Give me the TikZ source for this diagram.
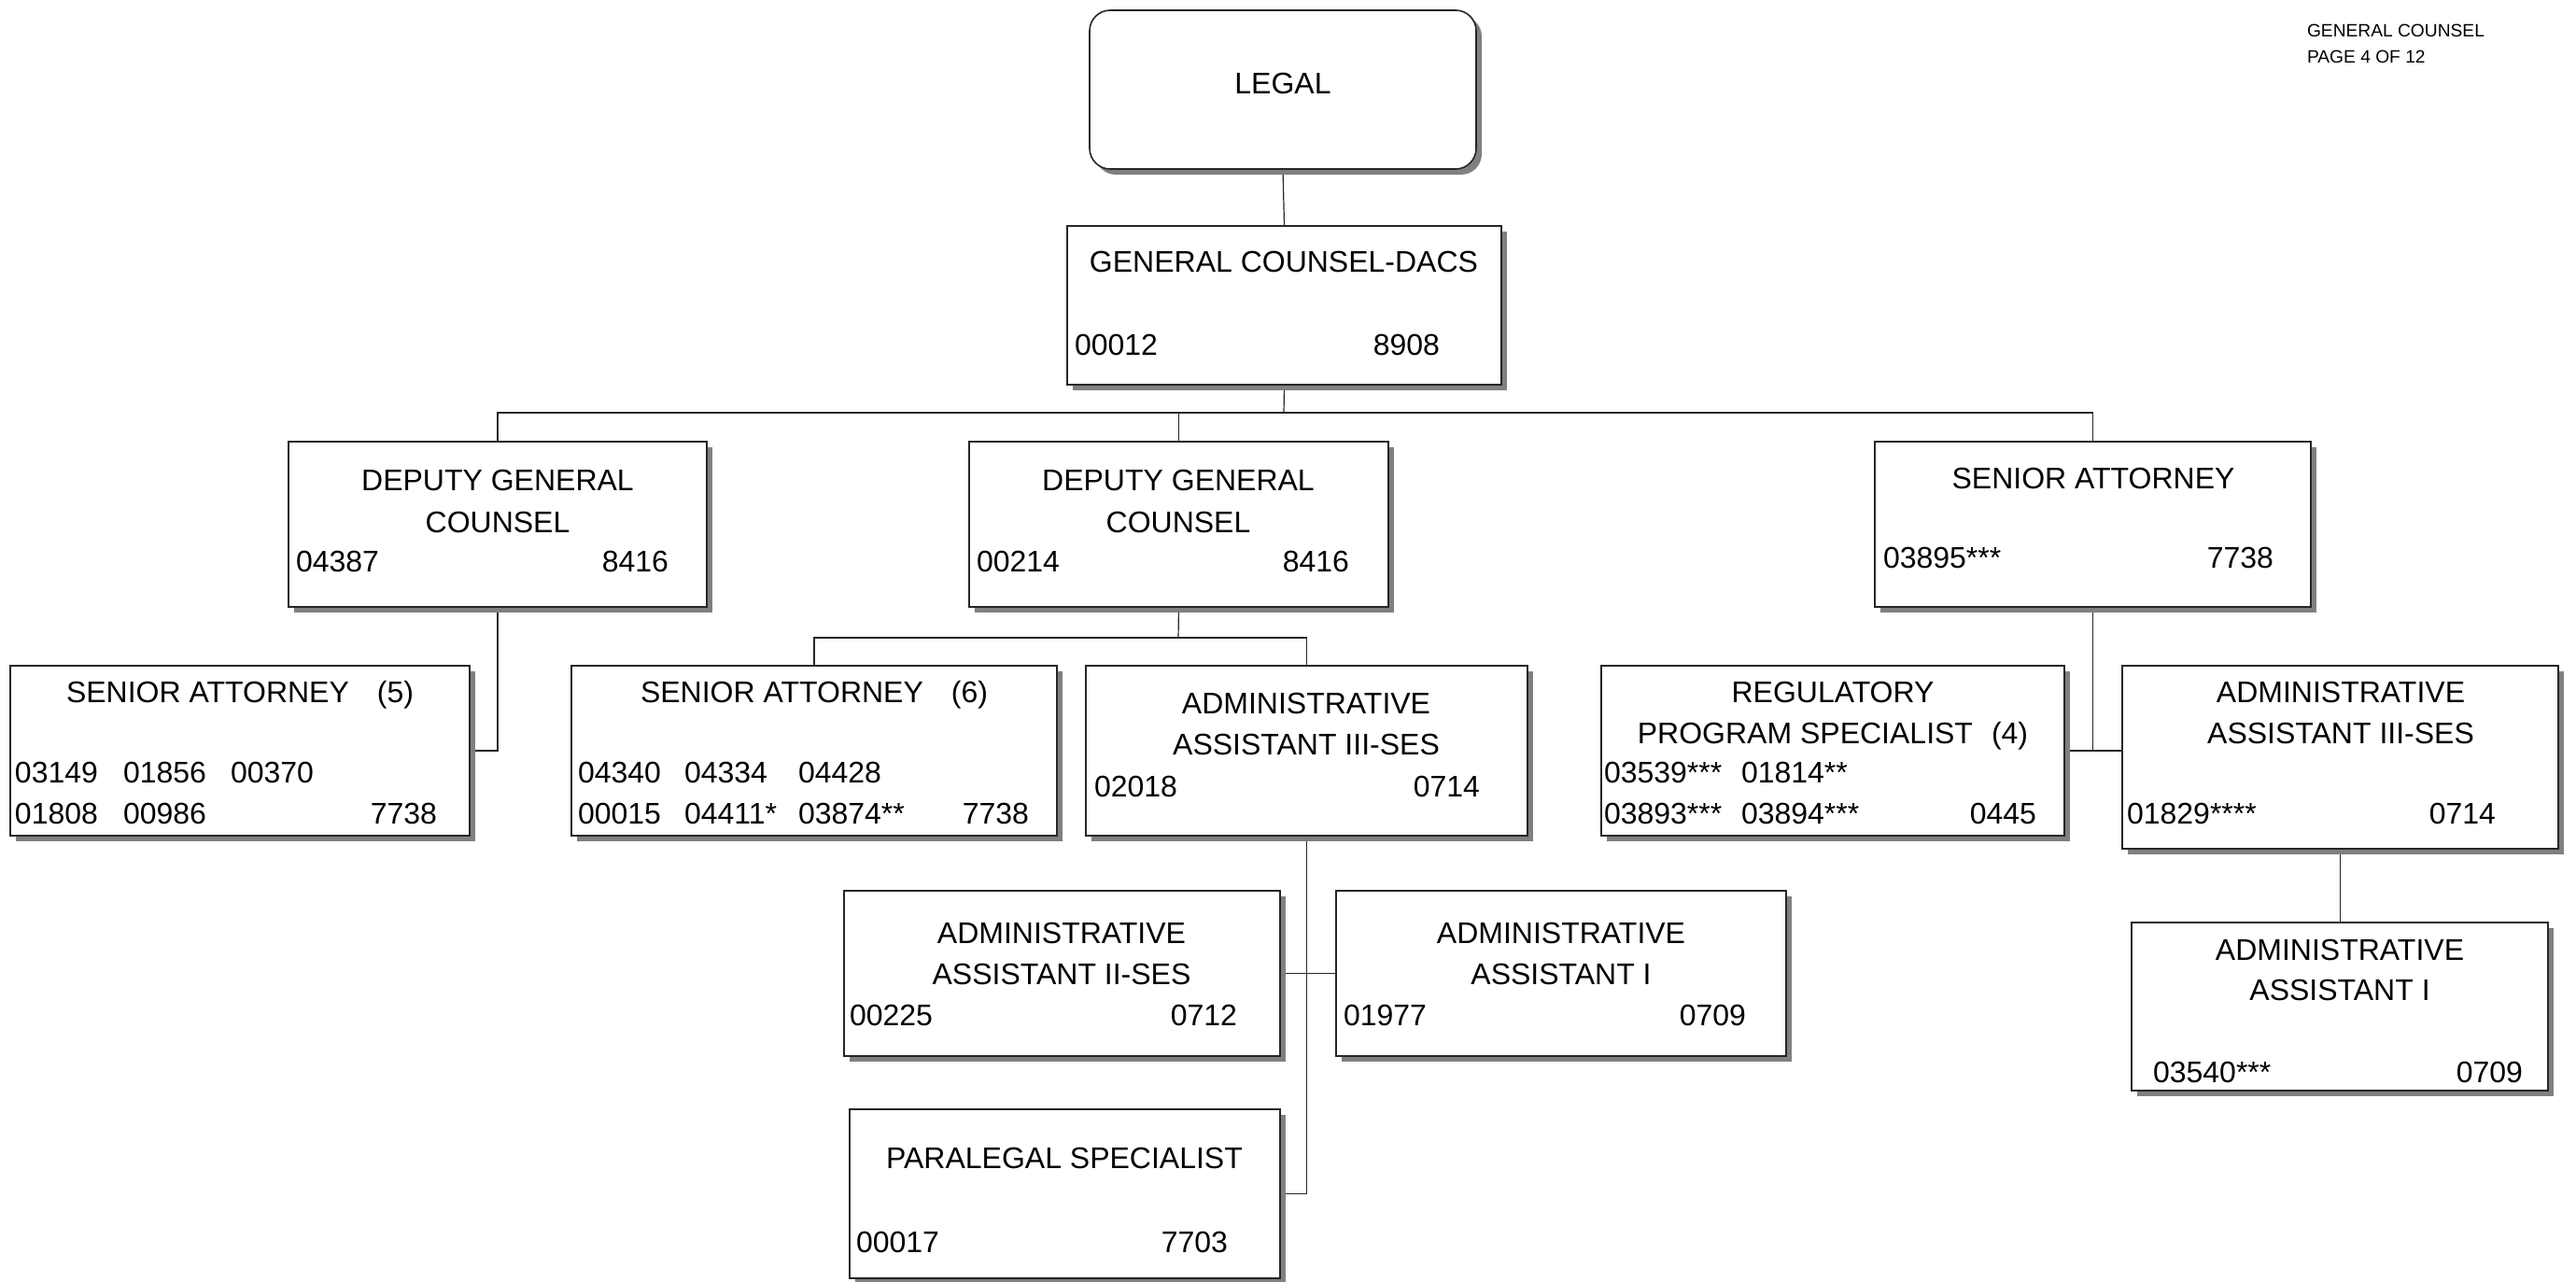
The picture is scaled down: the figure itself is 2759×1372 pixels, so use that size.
\documentclass[tikz,border=0pt]{standalone}
\usepackage{fontspec}
\setmainfont{Liberation Sans}
\definecolor{shadowgray}{RGB}{128,128,128}
\pgfdeclarelayer{background}
\pgfsetlayers{background,main}
\tikzset{
  unitbox/.style={draw=black!85, line width=0.4pt, fill=white, rectangle,
                  inner sep=0pt, outer sep=0pt},
  link/.style={draw=black!85, line width=0.3pt},
  txt/.style={inner sep=0pt, outer sep=0pt, font=\fontsize{8}{9.6}\selectfont},
  ttl/.style={txt, anchor=base},
  numl/.style={txt, anchor=base west},
  numr/.style={txt, anchor=base east},
  corner/.style={inner sep=0pt, outer sep=0pt, anchor=base west,
                 font=\fontsize{4.8}{5.8}\selectfont},
}
% org unit box with a drop shadow: [options]{name}{x1}{y1}{x2}{y2}
\newcommand\orgunit[6][]{%
  \fill[shadowgray,#1] (#3+6,#4+6) rectangle (#5+6,#6+6);
  \node[unitbox,#1,minimum width={(#5-#3)*0.25pt},minimum height={(#6-#4)*0.25pt}]
    (#2) at ({(#3+#5)/2},{(#4+#6)/2}) {};
}
\begin{document}
\begin{tikzpicture}[x=0.25pt,y=-0.25pt]
\useasboundingbox (0,0) rectangle (2759,1372);

% boxes
\orgunit[rounded corners=5.5pt]{legal}{1167}{11}{1581}{181}
\orgunit{gc}{1143}{242}{1608}{412}
\orgunit{dgcl}{309}{473}{757}{650}
\orgunit{dgcm}{1038}{473}{1487}{650}
\orgunit{sar}{2008}{473}{2475}{650}
\orgunit{sa5}{11}{713}{503}{895}
\orgunit{sa6}{612}{713}{1132}{895}
\orgunit{aa3m}{1163}{713}{1636}{895}
\orgunit{reg}{1715}{713}{2211}{895}
\orgunit{aa3r}{2273}{713}{2740}{909}
\orgunit{aa2}{904}{954}{1371}{1131}
\orgunit{aa1m}{1431}{954}{1913}{1131}
\orgunit{para}{910}{1188}{1371}{1369}
\orgunit{aa1r}{2283}{988}{2729}{1168}

% connectors, behind the boxes and their shadows
\begin{pgfonlayer}{background}
\fill[white] (0,0) rectangle (2759,1372);
\coordinate (bus) at (1375,442);
\coordinate (busm) at (1262,683);
\draw[link] (legal.south) -- (gc.north);
\draw[link] (gc.south) -- (bus);
\draw[link] (dgcl.north) |- (bus) -| (sar.north);
\draw[link] (dgcm.north) -- (dgcm.north |- bus);
\draw[link] (dgcl.south) |- (sa5.east);
\draw[link] (dgcm.south) -- (busm);
\draw[link] (sa6.north) |- (busm) -| (aa3m.north);
\draw[link] (sar.south) -- (sar.south |- reg.east);
\draw[link] (reg.east) -- (reg.east -| aa3r.west);
\draw[link] (aa3m.south) |- (para.east);
\draw[link] (aa2.east) -- (aa1m.west);
\draw[link] (aa3r.south) -- (aa3r.south |- aa1r.north);
\end{pgfonlayer}

% texts
\node[ttl] (legal-t) at (1374,100) {LEGAL};

\node[ttl]  (gc-t) at (1375,291) {GENERAL COUNSEL-DACS};
\node[numl] (gc-p) at (1151,380) {00012};
\node[numr] (gc-c) at (1542,380) {8908};

\node[ttl]  (dgcl-t1) at (533,525) {DEPUTY GENERAL};
\node[ttl]  (dgcl-t2) at (533,570) {COUNSEL};
\node[numl] (dgcl-p)  at (317,612) {04387};
\node[numr] (dgcl-c)  at (716,612) {8416};

\node[ttl]  (dgcm-t1) at (1262,525) {DEPUTY GENERAL};
\node[ttl]  (dgcm-t2) at (1262,570) {COUNSEL};
\node[numl] (dgcm-p)  at (1046,612) {00214};
\node[numr] (dgcm-c)  at (1445,612) {8416};

\node[ttl]  (sar-t) at (2242,523) {SENIOR ATTORNEY};
\node[numl] (sar-p) at (2017,608) {03895***};
\node[numr] (sar-c) at (2435,608) {7738};

\node[ttl]  (sa5-t)  at (257,752) {SENIOR ATTORNEY\hspace{7.5pt}(5)};
\node[numl] (sa5-p1) at (16,838)  {03149};
\node[numl] (sa5-p2) at (132,838) {01856};
\node[numl] (sa5-p3) at (247,838) {00370};
\node[numl] (sa5-p4) at (16,882)  {01808};
\node[numl] (sa5-p5) at (132,882) {00986};
\node[numr] (sa5-c)  at (468,882) {7738};

\node[ttl]  (sa6-t)  at (872,752) {SENIOR ATTORNEY\hspace{7.5pt}(6)};
\node[numl] (sa6-p1) at (619,838) {04340};
\node[numl] (sa6-p2) at (733,838) {04334};
\node[numl] (sa6-p3) at (855,838) {04428};
\node[numl] (sa6-p4) at (619,882) {00015};
\node[numl] (sa6-p5) at (733,882) {04411*};
\node[numl] (sa6-p6) at (855,882) {03874**};
\node[numr] (sa6-c)  at (1102,882) {7738};

\node[ttl]  (aa3m-t1) at (1399,764) {ADMINISTRATIVE};
\node[ttl]  (aa3m-t2) at (1399,808) {ASSISTANT III-SES};
\node[numl] (aa3m-p)  at (1172,853) {02018};
\node[numr] (aa3m-c)  at (1585,853) {0714};

\node[ttl]  (reg-t1) at (1963,752) {REGULATORY};
\node[ttl]  (reg-t2) at (1963,796) {PROGRAM SPECIALIST\hspace{5pt}(4)};
\node[numl] (reg-p1) at (1718,838) {03539***};
\node[numl] (reg-p2) at (1865,838) {01814**};
\node[numl] (reg-p3) at (1718,882) {03893***};
\node[numl] (reg-p4) at (1865,882) {03894***};
\node[numr] (reg-c)  at (2181,882) {0445};

\node[ttl]  (aa3r-t1) at (2507,752) {ADMINISTRATIVE};
\node[ttl]  (aa3r-t2) at (2507,796) {ASSISTANT III-SES};
\node[numl] (aa3r-p)  at (2278,882) {01829****};
\node[numr] (aa3r-c)  at (2673,882) {0714};

\node[ttl]  (aa2-t1) at (1137,1010) {ADMINISTRATIVE};
\node[ttl]  (aa2-t2) at (1137,1054) {ASSISTANT II-SES};
\node[numl] (aa2-p)  at (910,1098)  {00225};
\node[numr] (aa2-c)  at (1325,1098) {0712};

\node[ttl]  (aa1m-t1) at (1672,1010) {ADMINISTRATIVE};
\node[ttl]  (aa1m-t2) at (1672,1054) {ASSISTANT I};
\node[numl] (aa1m-p)  at (1439,1098) {01977};
\node[numr] (aa1m-c)  at (1870,1098) {0709};

\node[ttl]  (para-t) at (1140,1251) {PARALEGAL SPECIALIST};
\node[numl] (para-p) at (917,1341)  {00017};
\node[numr] (para-c) at (1315,1341) {7703};

\node[ttl]  (aa1r-t1) at (2506,1028) {ADMINISTRATIVE};
\node[ttl]  (aa1r-t2) at (2506,1071) {ASSISTANT I};
\node[numl] (aa1r-p)  at (2306,1159) {03540***};
\node[numr] (aa1r-c)  at (2702,1159) {0709};

% page header
\node[corner] (hdr1) at (2471,39) {GENERAL COUNSEL};
\node[corner] (hdr2) at (2471,67) {PAGE 4 OF 12};
\end{tikzpicture}
\end{document}
